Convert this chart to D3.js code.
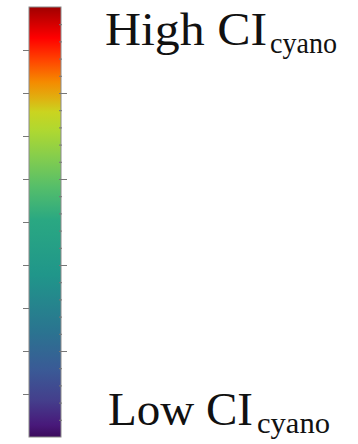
<!DOCTYPE html>
<html>
<head>
<meta charset="utf-8">
<script src="https://cdn.jsdelivr.net/npm/d3@7/dist/d3.min.js"></script>
<style>
  html, body { margin: 0; padding: 0; background: #fff; }
  svg { display: block; }
</style>
</head>
<body>
<div id="chart"></div>
<script>
  // colour stops, value 0 = bottom, 1 = top
  var stopOffsets = [0, 0.028, 0.086, 0.156, 0.249, 0.377, 0.505, 0.581, 0.644, 0.714, 0.756, 0.788, 0.826, 0.872, 0.928, 0.988, 1];
  var stopColors = ["#3c0a5c", "#48197a", "#443f8c", "#3a5a96", "#2a7590", "#20968a", "#2aa882", "#55be6a",
                    "#80cc50", "#b0d830", "#cad420", "#e0b010", "#f58a00", "#ff4a00", "#ff0000", "#b00000", "#a00000"];
  var leftTicks = [1, 2, 3, 4, 5, 6, 7, 8, 9];
  var rightMajor = [2, 4, 6, 8];
  var rightMinor = d3.range(1, 25).map(function (i) { return i * 0.4; });
  var labelTop = { main: "High CI", sub: "cyano" };
  var labelBottom = { main: "Low CI", sub: "cyano" };

  var width = 358, height = 444;
  var barX = 29, barW = 32, barTop = 7, barBottom = 437;

  var svg = d3.select("#chart").append("svg")
    .attr("width", width)
    .attr("height", height);

  var y = d3.scaleLinear().domain([0, 10]).range([barBottom, barTop]);

  var grad = svg.append("defs").append("linearGradient")
    .attr("id", "cbar")
    .attr("x1", 0).attr("y1", 1).attr("x2", 0).attr("y2", 0);
  stopOffsets.forEach(function (o, i) {
    grad.append("stop").attr("offset", o).attr("stop-color", stopColors[i]);
  });

  svg.append("rect")
    .attr("x", barX)
    .attr("y", y(10))
    .attr("width", barW)
    .attr("height", y(0) - y(10))
    .attr("fill", "url(#cbar)")
    .attr("stroke", "#8a8a8a")
    .attr("stroke-width", 1);

  function styleAxis(g) {
    g.select(".domain").remove();
    g.selectAll("line").attr("stroke", "#777").attr("stroke-width", 1);
    g.selectAll("text").remove();
  }

  // left ticks, pointing outward
  svg.append("g")
    .attr("transform", "translate(" + barX + ",0)")
    .call(d3.axisLeft(y).tickValues(leftTicks).tickSize(6))
    .call(styleAxis);

  // right minor ticks, pointing inward
  svg.append("g")
    .attr("transform", "translate(" + (barX + barW + 1) + ",0)")
    .call(d3.axisLeft(y).tickValues(rightMinor).tickSize(3))
    .call(styleAxis);

  // right major ticks, crossing the edge
  svg.append("g")
    .attr("transform", "translate(" + (barX + barW - 2) + ",0)")
    .call(d3.axisRight(y).tickValues(rightMajor).tickSize(8))
    .call(styleAxis);

  function addLabel(lbl, x, baseline, mainLen, subGap, subLen) {
    var font = "'Liberation Serif', 'DejaVu Serif', serif";
    svg.append("text")
      .attr("x", x)
      .attr("y", baseline)
      .attr("font-family", font)
      .attr("font-size", 46)
      .attr("fill", "#111")
      .attr("textLength", mainLen)
      .attr("lengthAdjust", "spacingAndGlyphs")
      .text(lbl.main);
    svg.append("text")
      .attr("x", x + mainLen + subGap)
      .attr("y", baseline + 8)
      .attr("font-family", font)
      .attr("font-size", 29)
      .attr("fill", "#111")
      .attr("textLength", subLen)
      .attr("lengthAdjust", "spacingAndGlyphs")
      .text(lbl.sub);
  }

  addLabel(labelTop, 105, 45, 162, 3, 67);
  addLabel(labelBottom, 108, 425, 145, 4, 73);
</script>
</body>
</html>
